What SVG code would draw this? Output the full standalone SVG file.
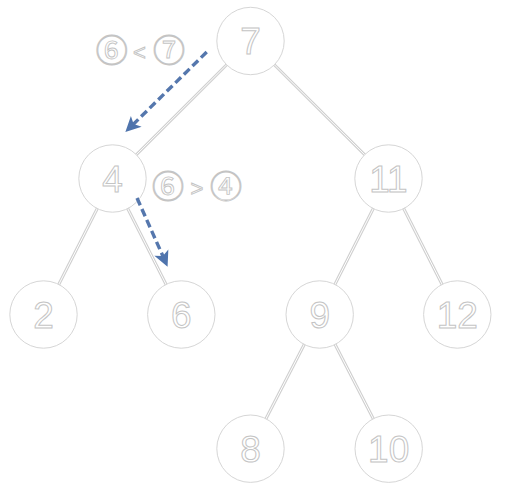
<svg xmlns="http://www.w3.org/2000/svg" width="508" height="491" viewBox="0 0 508 491">
<defs>
<style>
.edge-o{stroke:#cfcfcf;stroke-width:3;fill:none}
.edge-i{stroke:#ffffff;stroke-width:1;fill:none}
.node circle{fill:#ffffff;stroke:#d6d6d6;stroke-width:1}
.node text{font-family:"Liberation Sans",Arial,sans-serif;font-size:37px;fill:#ffffff;stroke:#c4c4c4;stroke-width:1;text-anchor:middle}
.lbl{font-family:"Noto Sans CJK SC","Liberation Sans",sans-serif;fill:#ffffff;stroke:#c4c4c4;stroke-width:0.9;text-anchor:middle}
.op{font-family:"Liberation Sans",Arial,sans-serif;font-size:22px;fill:#ffffff;stroke:#c4c4c4;stroke-width:0.9;text-anchor:middle}
.arr{stroke:#5577ad;stroke-width:3.4;stroke-dasharray:8 4;fill:none;marker-end:url(#ah)}
</style>
<marker id="ah" markerWidth="5" markerHeight="5" refX="3" refY="2.25" orient="auto" markerUnits="strokeWidth" overflow="visible">
<path d="M0,0 L4.5,2.25 L0,4.5 L1.1,2.25 Z" fill="#4f74ad"/>
</marker>
</defs>
<g id="connectors">
<line class="edge-o" x1="250.5" y1="41" x2="112.5" y2="178.5"/><line class="edge-i" x1="250.5" y1="41" x2="112.5" y2="178.5"/>
<line class="edge-o" x1="250.5" y1="41" x2="388.5" y2="178.5"/><line class="edge-i" x1="250.5" y1="41" x2="388.5" y2="178.5"/>
<line class="edge-o" x1="112.5" y1="178.5" x2="43.5" y2="314.5"/><line class="edge-i" x1="112.5" y1="178.5" x2="43.5" y2="314.5"/>
<line class="edge-o" x1="112.5" y1="178.5" x2="181.3" y2="314.5"/><line class="edge-i" x1="112.5" y1="178.5" x2="181.3" y2="314.5"/>
<line class="edge-o" x1="388.5" y1="178.5" x2="319.7" y2="314.5"/><line class="edge-i" x1="388.5" y1="178.5" x2="319.7" y2="314.5"/>
<line class="edge-o" x1="388.5" y1="178.5" x2="457.3" y2="314.5"/><line class="edge-i" x1="388.5" y1="178.5" x2="457.3" y2="314.5"/>
<line class="edge-o" x1="319.7" y1="314.5" x2="250.5" y2="448.7"/><line class="edge-i" x1="319.7" y1="314.5" x2="250.5" y2="448.7"/>
<line class="edge-o" x1="319.7" y1="314.5" x2="388.7" y2="448.7"/><line class="edge-i" x1="319.7" y1="314.5" x2="388.7" y2="448.7"/>
</g>
<g id="n7" class="node"><circle cx="250.5" cy="41" r="33.7"/><text x="250.5" y="54">7</text></g>
<g id="n4" class="node"><circle cx="112.5" cy="178.5" r="33.7"/><text x="112.5" y="191.5">4</text></g>
<g id="n11" class="node"><circle cx="388.5" cy="178.5" r="33.7"/><text x="388.5" y="191.5">11</text></g>
<g id="n2" class="node"><circle cx="43.5" cy="314.5" r="33.7"/><text x="43.5" y="327.5">2</text></g>
<g id="n6" class="node"><circle cx="181.3" cy="314.5" r="33.7"/><text x="181.3" y="327.5">6</text></g>
<g id="n9" class="node"><circle cx="319.7" cy="314.5" r="33.7"/><text x="319.7" y="327.5">9</text></g>
<g id="n12" class="node"><circle cx="457.3" cy="314.5" r="33.7"/><text x="457.3" y="327.5">12</text></g>
<g id="n8" class="node"><circle cx="250.5" cy="448.7" r="33.7"/><text x="250.5" y="461.7">8</text></g>
<g id="n10" class="node"><circle cx="388.7" cy="448.7" r="33.7"/><text x="388.7" y="461.7">10</text></g>
<g id="label1">
<text class="lbl" x="111.7" y="62" font-size="32">⑥</text>
<text class="op" x="139.5" y="60">&lt;</text>
<text class="lbl" x="169" y="62" font-size="32">⑦</text>
</g>
<g id="label2">
<text class="lbl" x="168" y="198" font-size="32">⑥</text>
<text class="op" x="197" y="196">&gt;</text>
<text class="lbl" x="226" y="198" font-size="32">④</text>
</g>
<g id="arrows">
<line class="arr" x1="206.7" y1="52" x2="129" y2="128.5"/>
<line class="arr" x1="137" y1="198" x2="165.5" y2="262"/>
</g>
</svg>
